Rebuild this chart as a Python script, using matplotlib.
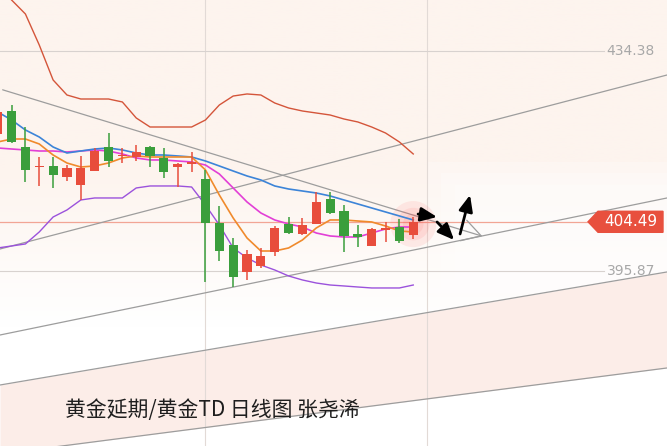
import numpy as np
import matplotlib.pyplot as plt
from matplotlib.patches import Polygon

plt.rcParams['font.family'] = ['Noto Sans CJK SC', 'DejaVu Sans']

# daily candles, index 0..30
opens  = [419.86, 423.88, 417.58, 414.08, 414.26, 412.33, 410.93, 413.38, 417.58, 416.00,
          415.83, 417.58, 415.66, 414.08, 414.61, 411.98, 404.28, 400.43, 395.71, 396.76,
          399.21, 404.11, 402.36, 404.11, 408.48, 406.38, 402.36, 400.26, 403.06, 403.58,
          402.18]
highs  = [424.06, 424.93, 421.08, 415.83, 415.83, 414.43, 416.01, 417.41, 420.03, 417.41,
          417.93, 417.76, 417.41, 414.78, 416.71, 413.56, 407.26, 401.66, 399.56, 399.91,
          403.76, 405.33, 405.16, 409.71, 409.71, 407.43, 403.93, 403.41, 404.46, 404.98,
          405.33]
lows   = [419.51, 418.28, 411.46, 410.76, 410.41, 411.63, 408.31, 413.38, 414.08, 414.78,
          415.13, 414.08, 412.16, 410.58, 413.21, 393.96, 397.64, 393.08, 394.31, 396.41,
          398.51, 402.36, 402.18, 404.11, 405.86, 399.21, 400.08, 400.26, 400.96, 400.78,
          401.48]
closes = [423.71, 418.46, 413.56, 414.20, 412.68, 413.91, 413.91, 416.88, 415.13, 416.18,
          416.71, 416.01, 413.21, 414.61, 414.96, 404.28, 399.38, 394.83, 398.86, 398.51,
          403.41, 402.53, 403.93, 407.96, 406.03, 402.01, 401.83, 403.23, 403.41, 401.13,
          404.49]

# overlays
ma_orange = [418.46, 418.98, 418.98, 418.11, 416.18, 414.78, 414.08, 414.26, 414.78, 415.66,
             416.01, 415.83, 415.83, 415.83, 415.83, 413.56, 409.18, 405.16, 401.66, 399.38,
             399.38, 399.91, 401.31, 403.41, 404.81, 404.81, 404.63, 404.46, 403.76, 402.88,
             402.71]
ma_blue = [423.71, 422.31, 420.56, 419.33, 417.58, 416.53, 416.88, 417.23, 417.41, 417.06,
           416.53, 416.18, 416.18, 416.01, 415.83, 415.13, 414.26, 413.38, 412.51, 411.81,
           410.76, 410.23, 409.88, 409.53, 409.01, 408.31, 407.61, 406.91, 406.21, 405.51,
           404.81]
boll_up = [445.93, 443.31, 440.86, 435.43, 429.31, 426.68, 425.98, 425.98, 425.98, 425.46,
           422.66, 421.08, 421.08, 421.08, 421.08, 422.31, 424.93, 426.50, 426.86, 426.68,
           425.28, 424.41, 423.88, 423.53, 423.18, 422.48, 421.96, 421.08, 420.03, 418.46,
           416.36]
boll_mid = [417.41, 417.23, 417.06, 416.88, 416.88, 416.71, 416.88, 417.06, 416.88, 416.36,
            415.66, 415.31, 415.31, 415.13, 414.96, 414.43, 412.86, 410.41, 407.96, 406.03,
            404.81, 404.11, 403.58, 402.53, 402.01, 401.83, 401.83, 402.53, 403.23, 403.58,
            403.58]
boll_low = [399.91, 400.26, 400.61, 402.71, 405.33, 406.56, 408.31, 408.66, 408.66, 408.66,
            410.41, 410.76, 410.76, 410.76, 410.58, 407.43, 403.93, 399.91, 398.16, 396.93,
            396.06, 395.01, 394.31, 393.78, 393.43, 393.26, 393.08, 392.91, 392.91, 392.91,
            393.43]

# hand drawn trend lines: (x0, y0, x1, y1)
trend_down = (0.166, 427.73, 35.18, 401.83)
channels = [(0.166, 399.73, 48.32, 430.18),
            (0.166, 384.68, 48.32, 408.66),
            (0.166, 375.93, 48.32, 395.71),
            (0.166, 363.86, 48.32, 378.91)]
arrows = [(30.35, 405.85, 31.72, 405.33),
          (31.72, 404.46, 32.95, 401.31),
          (33.38, 402.36, 34.10, 409.18)]

price_grid = [434.38, 395.87]
last_price = 404.49
vgrid = [15, 31]
title = '黄金延期/黄金TD 日线图 张尧浠'

RED = '#e84d3c'
GREEN = '#3a9e3c'

fig = plt.figure(figsize=(6.67, 4.46), dpi=100)
ax = fig.add_axes([0, 0, 1, 1])
ax.set_xlim(0.166, 48.32)
ax.set_ylim(365.255, 443.305)
ax.axis('off')

# background: peach on top fading to white
grad = np.linspace(0, 1, 200)[:, None]
peach = np.array([253, 244, 238]) / 255.
bg = peach + (1 - peach) * np.clip((grad - 0.38) / 0.35, 0, 1)[..., None]
ax.imshow(bg, extent=[0.166, 48.32, 365.255, 443.305], aspect='auto', zorder=0)
# softer white patch on the right side
for k, a in enumerate([0.25, 0.25, 0.3]):
    ax.fill_between([31 + k, 48.32], [415 - 2 * k] * 2, [392] * 2, color='white', alpha=a, zorder=0, lw=0)

# pink band between the two lowest channel lines
c4, c5 = channels[2], channels[3]
ax.fill_between([c4[0], c4[2]], [c4[1], c4[3]], [c5[1], c5[3]], color='#fcede8', zorder=0.5, lw=0)

# grid
for v in vgrid:
    ax.axvline(v, color='#e2dad6', lw=0.8, zorder=1)
yt = ax.get_yaxis_transform()
for p in price_grid:
    ax.plot([0, 0.905], [p, p], transform=yt, color='#d8d2cf', lw=0.8, zorder=1)
    ax.text(0.982, p, f'{p:.2f}', transform=yt, ha='right', va='center',
            color='#a8a8a8', fontsize=10, family='DejaVu Sans', zorder=5)

# trend lines
for x0, y0, x1, y1 in channels:
    ax.plot([x0, x1], [y0, y1], color='#9d9d9d', lw=0.9, zorder=2)
x0, y0, x1, y1 = trend_down
ax.annotate('', xy=(x1, y1), xytext=(x0, y0),
            arrowprops=dict(arrowstyle='->,head_length=0.6,head_width=0.35',
                            color='#9d9d9d', lw=0.9, mutation_scale=22), zorder=2)

# last price line and tag
ax.plot([0, 0.882], [last_price, last_price], transform=yt, color='#f2a595', lw=0.9, zorder=1.5)
tag = Polygon([[0.8816, last_price], [0.8966, last_price + 1.84], [0.994, last_price + 1.84],
               [0.994, last_price - 1.84], [0.8966, last_price - 1.84]],
              closed=True, transform=yt, color='#e8503e', zorder=5)
ax.add_patch(tag)
ax.text(0.946, last_price, f'{last_price:.2f}', transform=yt, ha='center', va='center',
        color='white', fontsize=11, family='DejaVu Sans', zorder=6)

x = np.arange(len(opens))

# glow at the last candle
ax.scatter([x[-1]] * 3, [last_price - 0.4] * 3, s=[1100, 550, 220], color='#ff4040',
           alpha=0.09, linewidths=0, zorder=2.5)

# overlays
ax.plot(x, boll_up, color='#d4553a', lw=1, zorder=3)
ax.plot(x, boll_low, color='#9b52dc', lw=1, zorder=3)
ax.plot(x, boll_mid, color='#e23fd6', lw=1.2, zorder=3)
ax.plot(x, ma_blue, color='#3c84d8', lw=1.2, zorder=3)
ax.plot(x, ma_orange, color='#f08a2c', lw=1.2, zorder=3)

# candles
o = np.array(opens); c = np.array(closes)
cols = [RED if cc >= oo else GREEN for oo, cc in zip(o, c)]
ax.vlines(x, lows, highs, colors=cols, lw=1.1, zorder=4)
body = np.maximum(np.abs(c - o), 0.22)
ax.bar(x, body, bottom=np.minimum(o, c), width=0.66, color=cols, zorder=4.5)

# drawn arrows
for ax0, ay0, ax1, ay1 in arrows:
    ax.annotate('', xy=(ax1, ay1), xytext=(ax0, ay0),
                arrowprops=dict(arrowstyle='-|>,head_length=0.7,head_width=0.3',
                                color='black', lw=2, mutation_scale=14, shrinkA=0, shrinkB=0),
                zorder=6)

fig.text(65 / 667, 1 - 410 / 446, title, ha='left', va='center', fontsize=15, color='#1e1e1e')

fig.savefig('out.png', dpi=100)
